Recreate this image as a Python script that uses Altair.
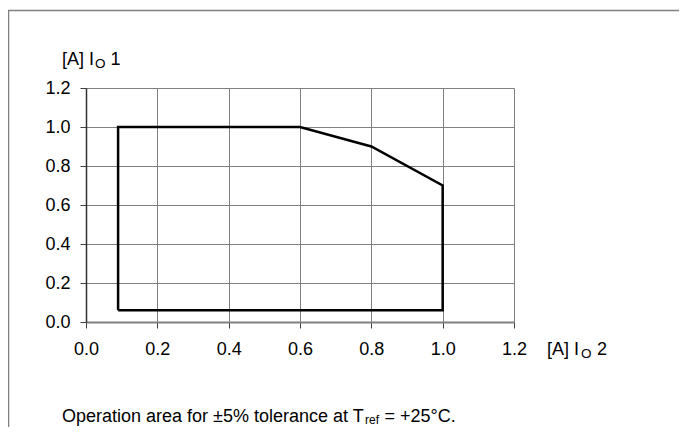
import altair as alt
import pandas as pd

# Operating-area polygon (I_O2 on x, I_O1 on y), drawn in order
io2 = [0.09, 0.09, 0.6, 0.8, 1.0, 1.0, 0.09]
io1 = [0.06, 1.0, 1.0, 0.9, 0.7, 0.06, 0.06]
order = list(range(len(io2)))

tick_values = [0.0, 0.2, 0.4, 0.6, 0.8, 1.0, 1.2]

y_title = ["[A] I", "O", "1"]
x_title = ["[A] I", "O", "2"]
caption = ["Operation area for \u00b15% tolerance at T", "ref", "= +25\u00b0C."]

FONT = "Liberation Sans"

df = pd.DataFrame({"io2": io2, "io1": io1, "order": order})

W, H = 428, 234

axis_common = dict(values=tick_values, format=".1f", title=None, grid=True,
                   gridColor="#808080", gridWidth=1, gridOpacity=1,
                   tickColor="#404040", tickSize=6, tickWidth=1,
                   labelFontSize=18, labelColor="black", labelFont=FONT,
                   labelFlush=False)

poly = alt.Chart(df).mark_line(color="black", strokeWidth=2.5, strokeJoin="miter").encode(
    x=alt.X("io2:Q", scale=alt.Scale(domain=[0, 1.2], nice=False),
            axis=alt.Axis(domainColor="#808080", domainWidth=2, labelPadding=12,
                          **axis_common)),
    y=alt.Y("io1:Q", scale=alt.Scale(domain=[0, 1.2], nice=False),
            axis=alt.Axis(domainColor="#303030", domainWidth=1.5, labelPadding=10,
                          **axis_common)),
    order="order:Q",
)

one = pd.DataFrame({"d": [0]})


def txt(s, x, y, size):
    return alt.Chart(one).mark_text(text=s, align="left", baseline="alphabetic",
                                    font=FONT, fontSize=size, color="black").encode(
        x=alt.value(x), y=alt.value(y))


texts = [
    txt(y_title[0], -24, -23, 18),
    txt(y_title[1], 9, -20, 13.5),
    txt(y_title[2], 24.5, -23, 18),
    txt(x_title[0], 461, 267, 18),
    txt(x_title[1], 495, 269.5, 13.5),
    txt(x_title[2], 511, 267, 18),
    txt(caption[0], -24, 333.5, 18),
    txt(caption[1], 279, 336, 12),
    txt(caption[2], 298.5, 333.5, 18),
]

frame_left = alt.Chart(one).mark_rule(color="#808080", strokeWidth=1.5).encode(
    x=alt.value(-77.5), y=alt.value(-77.5), y2=alt.value(340))
frame_top = alt.Chart(one).mark_rule(color="#808080", strokeWidth=1.5).encode(
    x=alt.value(-78), x2=alt.value(600), y=alt.value(-77.5))

chart = alt.layer(frame_left, frame_top, poly, *texts).properties(
    width=W, height=H,
    autosize=alt.AutoSizeParams(type="none"),
    padding={"left": 78, "top": 80, "right": 165, "bottom": 105},
).configure_view(stroke="#808080", strokeWidth=2).configure(font=FONT)

chart.save("out.html", embed_options={"renderer": "svg", "actions": False})
